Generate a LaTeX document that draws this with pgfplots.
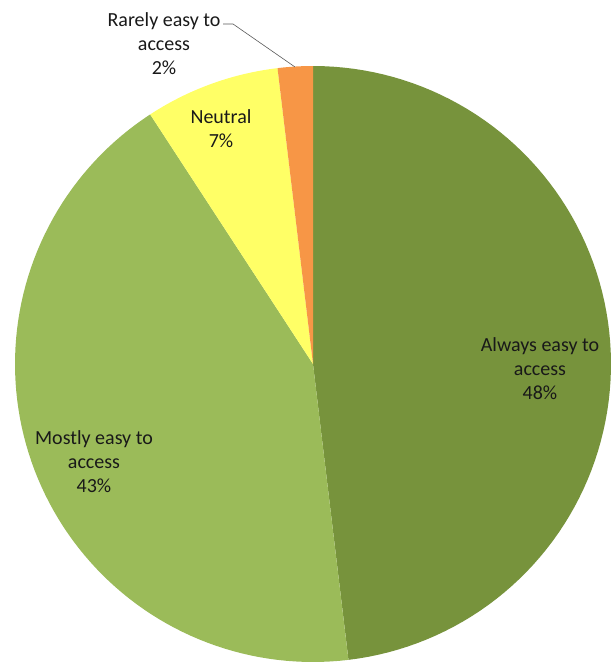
\documentclass[border=0pt]{standalone}
\usepackage{pgfplots}
\pgfplotsset{compat=1.18}
\usepackage{fontspec}
\setmainfont{Carlito}
\definecolor{cAlways}{HTML}{77933C}
\definecolor{cMostly}{HTML}{9BBB59}
\definecolor{cNeutral}{HTML}{FFFF66}
\definecolor{cRarely}{HTML}{F79646}
\begin{document}
\begin{tikzpicture}
% shares in percent
\def\vA{48.1}\def\vB{42.7}\def\vC{7.3}\def\vD{1.9}
\pgfmathsetmacro{\aO}{90}
\pgfmathsetmacro{\aA}{\aO-3.6*\vA}
\pgfmathsetmacro{\aB}{\aA-3.6*\vB}
\pgfmathsetmacro{\aC}{\aB-3.6*\vC}
\pgfmathsetmacro{\aD}{\aC-3.6*\vD}
\def\cx{313}\def\cy{298}\def\rr{298}
\begin{axis}[
  width=616pt, height=662pt, scale only axis,
  xmin=0, xmax=616, ymin=0, ymax=662,
  hide axis, clip=false,
]
\addplot[fill=cAlways, draw=none, domain=\aA:\aO, samples=90, variable=\t]
  ({\cx+\rr*cos(\t)}, {\cy+\rr*sin(\t)}) -- (axis cs:\cx,\cy) -- cycle;
\addplot[fill=cMostly, draw=none, domain=\aB:\aA, samples=90, variable=\t]
  ({\cx+\rr*cos(\t)}, {\cy+\rr*sin(\t)}) -- (axis cs:\cx,\cy) -- cycle;
\addplot[fill=cNeutral, draw=none, domain=\aC:\aB, samples=30, variable=\t]
  ({\cx+\rr*cos(\t)}, {\cy+\rr*sin(\t)}) -- (axis cs:\cx,\cy) -- cycle;
\addplot[fill=cRarely, draw=none, domain=\aD:\aC, samples=15, variable=\t]
  ({\cx+\rr*cos(\t)}, {\cy+\rr*sin(\t)}) -- (axis cs:\cx,\cy) -- cycle;
% leader line
\addplot[black!65, line width=0.6pt] coordinates {(223,638) (233,638) (295,595)};
% labels
\begin{scope}[every node/.style={align=center, font=\fontsize{20}{24}\selectfont, text=black!90}]
\node at (axis cs:164,618) {Rarely easy to\\access\\2\%};
\node at (axis cs:221,533) {Neutral\\7\%};
\node at (axis cs:540,293) {Always easy to\\access\\48\%};
\node at (axis cs:94,200) {Mostly easy to\\access\\43\%};
\end{scope}
\end{axis}
\path (current axis.south west) rectangle (current axis.north east);
\end{tikzpicture}
\end{document}
